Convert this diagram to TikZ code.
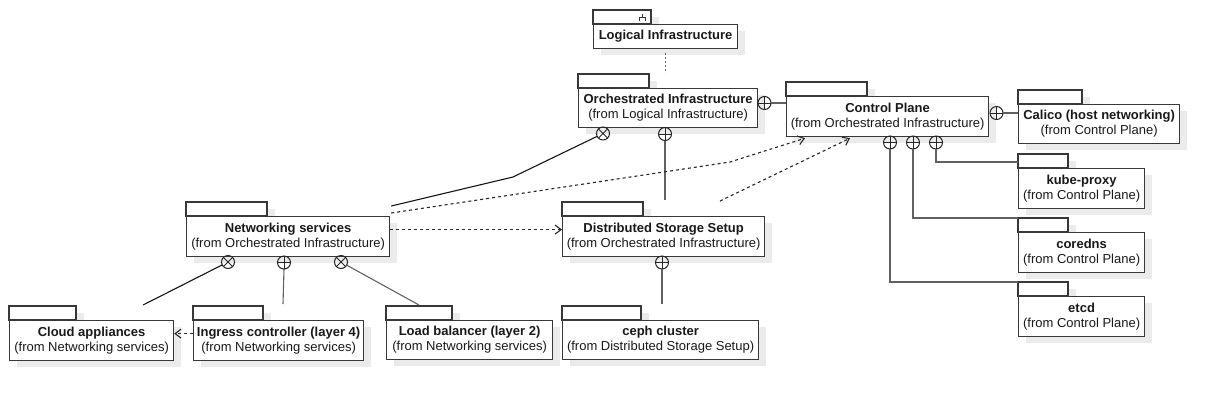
\documentclass[tikz,border=0pt]{standalone}
\usepackage{fontspec}
\setmainfont{Liberation Sans}
\usetikzlibrary{arrows.meta,calc}
\tikzset{
  shadowc/.style={fill=black!8},
  boxline/.style={draw=black!78, line width=1.2pt},
  pkgbody/.style={boxline, fill=white, inner sep=1pt, align=center,
    font=\fontsize{13}{15}\selectfont, text=black!90},
  conn/.style={draw=black!62, line width=1.1pt},
  connk/.style={draw=black!92, line width=1.1pt},
  depline/.style={draw=black!85, line width=1.1pt, dash pattern=on 3pt off 3pt,
    -{Straight Barb[length=6pt,width=9pt]}},
  nestsym/.style={draw=black!85, line width=1pt},
  dotline/.style={draw=black!60, line width=1.2pt, dash pattern=on 2pt off 2pt},
}
% name, x, tab-top y, tab width, body width, body height, text
\newcommand\pkgbox[7]{%
  \fill[shadowc] (#2+8,#3+7) rectangle ++(#4,14);
  \fill[shadowc] (#2+8,#3+21) rectangle ++(#5,#6);
  \draw[boxline, fill=white] (#2,#3) rectangle ++(#4,14);
  \node[pkgbody, minimum width=#5pt, minimum height=#6pt, anchor=north west]
    (#1) at (#2,#3+14) {#7};
}
\newcommand\oplusat[3]{%
  \coordinate (#1) at (#2,#3);
  \draw[nestsym] (#1) circle (6.5pt);
  \draw[nestsym] ($(#1)+(-6.5,0)$) -- ($(#1)+(6.5,0)$)
                 ($(#1)+(0,-6.5)$) -- ($(#1)+(0,6.5)$);
}
\newcommand\otimesat[3]{%
  \coordinate (#1) at (#2,#3);
  \draw[nestsym] (#1) circle (6.5pt);
  \draw[nestsym] ($(#1)+(-4.6,-4.6)$) -- ($(#1)+(4.6,4.6)$)
                 ($(#1)+(-4.6,4.6)$) -- ($(#1)+(4.6,-4.6)$);
}
\begin{document}
\begin{tikzpicture}[x=1pt,y=-1pt]
\useasboundingbox (0,0) rectangle (1218,400);

% packages
\pkgbox{L}{593}{10}{58}{144}{24}{\textbf{Logical Infrastructure}}
\draw[black!80, line width=1pt] (642,13.5) -- (642,17) (639,21) -- (639,17) -- (645,17) -- (645,21);
\pkgbox{O}{578}{74}{71}{179}{39}{\textbf{Orchestrated Infrastructure}\\(from Logical Infrastructure)}
\pkgbox{CP}{786}{82}{81}{202}{40}{\textbf{Control Plane}\\(from Orchestrated Infrastructure)}
\pkgbox{CA}{1018}{90}{64}{161}{39}{\textbf{Calico (host networking)}\\(from Control Plane)}
\pkgbox{KP}{1018}{154}{50}{126}{40}{\textbf{kube-proxy}\\(from Control Plane)}
\pkgbox{CD}{1018}{218}{50}{126}{40}{\textbf{coredns}\\(from Control Plane)}
\pkgbox{ET}{1018}{282}{50}{126}{40}{\textbf{etcd}\\(from Control Plane)}
\pkgbox{N}{186}{202}{81}{203}{40}{\textbf{Networking services}\\(from Orchestrated Infrastructure)}
\pkgbox{D}{562}{202}{81}{202}{40}{\textbf{Distributed Storage Setup}\\(from Orchestrated Infrastructure)}
\pkgbox{C}{9}{306}{67}{164}{40}{\textbf{Cloud appliances}\\(from Networking services)}
\pkgbox{I}{193}{306}{70}{170}{40}{\textbf{Ingress controller (layer 4)}\\(from Networking services)}
\pkgbox{LB}{386}{306}{66}{166}{39}{\textbf{Load balancer (layer 2)}\\(from Networking services)}
\pkgbox{CE}{562}{306}{79}{196}{39}{\textbf{ceph cluster}\\(from Distributed Storage Setup)}

% Logical -> Orchestrated
\draw[dotline] ($(L.south)+(0,4)$) -- ++(0,20);

% Orchestrated nesting
\oplusat{pOC}{764.5}{103}
\draw[conn] ($(pOC)+(6.5,0)$) -- (pOC -| CP.west);
\otimesat{xO}{603}{133.5}
\oplusat{pO}{665}{134}
\draw[conn] ($(pO)+(0,6.5)$) -- ($(pO |- D.north)+(0,-16)$);
\coordinate (bend1) at (513,177);
\draw[connk] ($(N.north east)+(1,-10)$) -- (bend1) -- ($(xO)!6.5pt!(bend1)$);

% Control plane nesting
\oplusat{pCC}{996.5}{113}
\draw[conn] ($(pCC)+(6.5,0)$) -- (pCC -| CA.west);
\oplusat{pE}{890}{142.5}
\oplusat{pD}{913}{142.5}
\oplusat{pK}{936}{142.5}
\draw[conn] ($(pK)+(0,6.5)$) |- ($(KP.north west)+(0,-6)$);
\draw[conn] ($(pD)+(0,6.5)$) |- ($(CD.north west)+(0,-14)$);
\draw[conn] ($(pE)+(0,6.5)$) |- ($(ET.north west)+(0,-14)$);

% Networking nesting
\otimesat{xN1}{228}{262}
\oplusat{pN}{284}{262.5}
\otimesat{xN2}{341}{262}
\coordinate (eC) at (143,305);
\coordinate (eI) at (283,304);
\coordinate (eL) at (419,305);
\draw[connk] ($(xN1)!6.5pt!(eC)$) -- (eC);
\draw[conn] ($(pN)+(0,6.5)$) -- (eI);
\draw[conn] ($(xN2)!6.5pt!(eL)$) -- (eL);

% Distributed nesting
\oplusat{pDS}{662}{262.5}
\draw[conn] ($(pDS)+(0,6.5)$) -- ($(pDS |- CE.north)+(0,-16)$);

% dependencies
\draw[depline] ($(I.west)+(0,-7)$) -- ($(C.east)+(0,-7)$);
\draw[depline] ($(N.east)+(0,-7)$) -- ($(D.west)+(0,-7)$);
\coordinate (bend2) at (730,162);
\draw[depline] ($(N.north east)+(1,-3)$) -- (bend2) -- ($(CP.south west)+(19,1)$);
\coordinate (dsrc) at ($(D.north west)+(158,-15)$);
\draw[depline] (dsrc) -- ($(CP.south west)+(64,1)$);
\end{tikzpicture}
\end{document}
